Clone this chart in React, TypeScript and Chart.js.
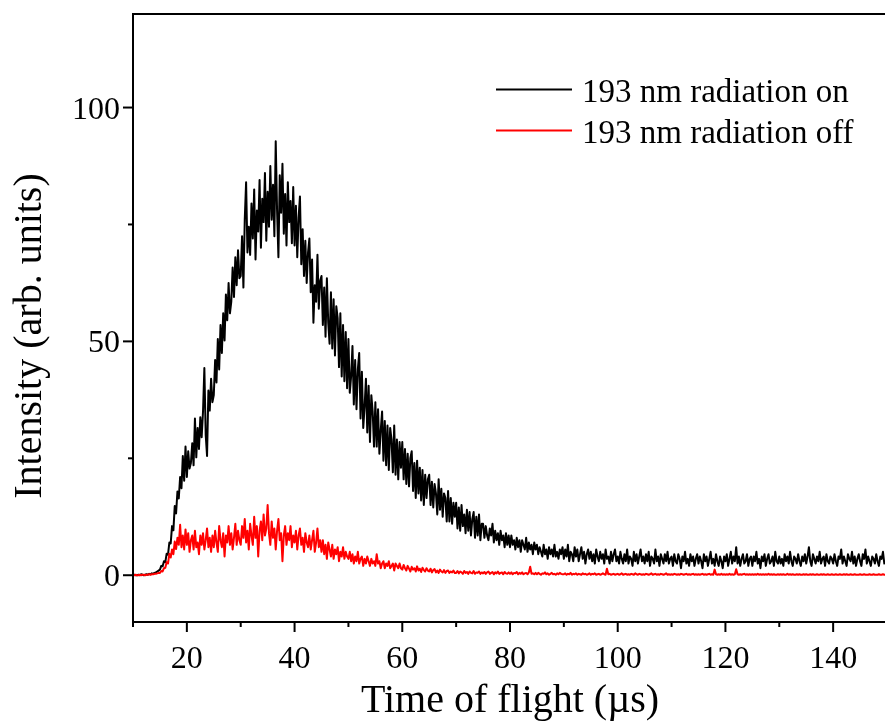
import React, { useEffect, useRef } from "react";
import { Chart, registerables } from "chart.js";

Chart.register(...registerables);

// Sampling of the time axis (µs)
const T_START = 10;
const T_STEP = 0.25;

// "193 nm radiation on" intensity, one value per 0.25 µs from 10 to 150 µs (20 values per row = 5 µs)
const onValues = [
  0, 0.1, 0, 0, 0.1, 0, 0.2, 0.1, 0, 0.1, 0.2, 0.1, 0.3, 0.2, 0.4, 0.3, 0.5, 0.6, 0.8, 1.0,
  1.2, 2.0, 1.9, 3.0, 2.8, 4.6, 4.4, 7.0, 6.8, 10.5, 9.6, 14.8, 13.2, 17.9, 16.4, 21.0, 18.6, 25.5, 20.2, 27.5,
  21.0, 26.5, 22.8, 24.0, 28.2, 23.5, 33.5, 25.2, 31.5, 27.0, 33.8, 29.5, 35.0, 44.3, 30.0, 25.5, 39.5, 35.2, 42.0, 37.0,
  38.5, 46.0, 41.2, 50.5, 44.0, 53.5, 47.5, 56.0, 50.2, 60.0, 54.5, 62.5, 56.0, 58.5, 65.8, 59.5, 68.0, 62.0, 69.5, 63.5,
  64.0, 72.5, 61.5, 76.0, 84.0, 69.0, 74.5, 68.5, 79.5, 72.0, 82.5, 67.5, 78.0, 73.5, 84.5, 70.0, 80.5, 75.5, 86.0, 71.5,
  82.0, 74.5, 87.5, 76.0, 83.5, 72.5, 92.8, 78.0, 68.0, 85.5, 77.5, 88.0, 73.0, 81.5, 70.5, 84.0, 75.5, 80.0, 71.0, 83.0,
  70.5, 79.0, 68.0, 76.5, 81.0, 66.5, 74.0, 64.0, 71.5, 62.5, 69.0, 72.0, 60.5, 67.5, 54.0, 62.0, 58.5, 68.5, 57.0, 63.0,
  64.0, 53.5, 61.5, 51.0, 63.5, 54.0, 49.5, 60.5, 48.5, 59.0, 47.0, 57.5, 55.0, 44.5, 56.0, 42.5, 53.5, 41.5, 52.0, 40.0,
  50.5, 39.0, 42.5, 49.0, 36.5, 46.0, 35.5, 44.0, 47.5, 33.5, 43.5, 31.5, 36.0, 42.0, 30.5, 40.5, 28.5, 38.5, 35.0, 27.5,
  37.0, 27.5, 35.5, 26.0, 31.0, 35.0, 24.5, 33.0, 23.5, 32.0, 22.5, 31.5, 29.0, 22.0, 32.0, 21.5, 29.0, 20.5, 28.5, 23.0,
  28.5, 20.5, 27.0, 19.5, 26.0, 19.0, 25.0, 26.5, 18.0, 24.0, 16.5, 24.5, 17.5, 23.0, 16.0, 22.5, 15.0, 21.5, 16.5, 20.5,
  21.5, 15.0, 20.0, 14.5, 19.5, 17.5, 13.0, 20.5, 14.0, 18.5, 12.5, 17.5, 16.5, 11.5, 18.0, 11.5, 16.5, 11.0, 15.5, 12.5,
  15.5, 10.0, 14.5, 9.5, 15.0, 10.5, 13.0, 9.0, 14.0, 9.5, 13.5, 8.5, 12.0, 13.5, 8.0, 12.5, 8.5, 13.0, 7.5, 11.0,
  11.0, 8.0, 10.5, 8.5, 7.5, 10.0, 8.5, 11.0, 7.0, 9.5, 7.5, 9.0, 6.5, 9.5, 7.5, 8.5, 6.0, 9.0, 6.5, 8.5,
  6.0, 8.5, 6.5, 7.5, 5.5, 8.0, 6.0, 7.5, 5.0, 7.5, 6.5, 5.5, 8.0, 5.0, 7.0, 5.5, 6.5, 4.5, 7.0, 5.5,
  6.5, 4.5, 6.0, 5.0, 4.0, 6.5, 4.5, 5.5, 3.5, 6.0, 4.5, 5.5, 4.0, 6.5, 4.0, 5.0, 3.5, 5.5, 4.5, 6.0,
  3.5, 5.5, 4.0, 6.5, 3.0, 5.0, 4.5, 3.0, 6.0, 4.0, 5.5, 3.0, 4.5, 6.0, 3.5, 5.0, 2.5, 4.5, 5.5, 3.5,
  5.0, 3.0, 4.5, 2.5, 5.5, 4.0, 3.0, 5.0, 3.5, 4.5, 2.5, 5.5, 3.5, 4.0, 2.5, 5.0, 3.0, 4.5, 5.5, 3.0,
  4.0, 2.5, 5.0, 3.5, 2.5, 4.5, 3.0, 5.5, 2.5, 4.0, 3.5, 2.0, 5.0, 3.0, 4.5, 2.5, 4.0, 5.5, 3.0, 4.0,
  2.5, 4.5, 3.0, 5.0, 2.0, 4.0, 3.5, 2.5, 5.5, 3.0, 4.0, 2.0, 4.5, 3.5, 2.5, 4.5, 3.0, 5.0, 2.5, 3.5,
  4.0, 2.0, 4.5, 3.0, 2.5, 4.5, 3.5, 1.5, 4.0, 3.0, 5.0, 2.5, 3.5, 2.0, 4.5, 3.0, 4.0, 2.0, 3.5, 4.5,
  2.5, 4.0, 3.0, 1.5, 4.5, 3.0, 4.0, 2.0, 3.5, 5.0, 2.5, 3.5, 2.0, 4.5, 3.0, 2.0, 4.0, 3.0, 1.5, 4.0,
  3.0, 4.5, 2.0, 3.5, 5.0, 2.5, 4.0, 3.0, 6.0, 2.5, 4.0, 2.0, 3.5, 4.5, 2.5, 3.0, 4.5, 2.0, 3.5, 4.0,
  2.0, 4.0, 3.0, 5.0, 2.5, 3.5, 1.5, 4.0, 3.0, 4.5, 2.0, 3.5, 4.5, 2.5, 3.0, 4.0, 2.0, 5.0, 3.0, 2.5,
  4.0, 2.5, 3.5, 2.0, 4.5, 3.0, 4.0, 2.5, 5.0, 3.0, 2.0, 4.0, 3.5, 2.5, 4.5, 3.0, 2.0, 4.0, 3.0, 4.5,
  2.5, 4.0, 6.0, 3.0, 2.0, 4.5, 3.5, 2.5, 4.0, 3.0, 5.0, 2.5, 3.5, 4.0, 2.0, 4.5, 3.0, 2.5, 4.0, 3.5,
  2.5, 4.5, 3.0, 2.0, 4.0, 3.5, 5.5, 2.5, 4.0, 3.0, 2.0, 4.5, 3.5, 3.0, 5.0, 2.5, 4.0, 2.0, 3.5, 4.5,
  3.0, 2.0, 4.5, 3.5, 5.5, 2.5, 4.0, 3.0, 2.0, 4.0, 3.5, 2.5, 4.5, 3.0, 2.0, 4.0, 3.5, 5.0, 2.5, 3.0,
  3.5,
];

// "193 nm radiation off" intensity, same sampling
const offValues = [
  0, 0, 0.1, 0, 0, 0.1, 0, 0.1, 0.1, 0, 0.1, 0.1, 0.2, 0.1, 0.2, 0.2, 0.3, 0.3, 0.4, 0.5,
  0.5, 0.9, 0.8, 1.5, 1.6, 2.8, 2.5, 4.6, 3.8, 5.5, 4.5, 7.2, 5.6, 8.0, 6.5, 10.8, 6.0, 8.5, 5.5, 9.8,
  6.5, 9.0, 5.0, 7.5, 8.5, 5.5, 9.5, 6.0, 7.0, 4.5, 8.5, 6.5, 9.0, 5.5, 7.5, 10.0, 6.0, 8.0, 5.0, 8.5,
  6.0, 9.5, 7.0, 5.0, 10.5, 7.5, 6.0, 9.0, 4.0, 8.5, 7.0, 10.5, 6.5, 9.0, 5.5, 8.0, 11.0, 6.5, 9.5, 7.5,
  6.5, 10.5, 8.0, 12.0, 7.0, 9.5, 5.5, 11.0, 8.5, 6.5, 12.5, 8.0, 10.5, 4.0, 9.5, 11.5, 7.5, 13.0, 8.5, 10.0,
  15.0, 9.0, 6.5, 11.5, 8.0, 10.0, 5.5, 9.5, 12.0, 7.5, 9.0, 3.0, 8.5, 10.5, 6.5, 9.0, 7.5, 10.5, 6.0, 8.5,
  7.0, 9.5, 5.5, 8.5, 10.0, 6.5, 8.0, 5.0, 9.0, 7.0, 6.0, 8.5, 5.5, 7.5, 9.5, 5.0, 7.0, 10.0, 6.0, 7.5,
  5.0, 7.5, 4.5, 6.5, 3.5, 7.0, 5.5, 4.0, 6.5, 3.5, 5.5, 4.5, 6.0, 3.0, 5.0, 4.0, 6.0, 3.5, 5.0, 4.0,
  3.5, 5.0, 3.0, 4.5, 2.5, 4.0, 3.0, 5.0, 2.5, 3.5, 4.0, 2.0, 3.5, 2.5, 4.0, 3.0, 2.0, 3.5, 2.5, 3.0,
  2.0, 4.5, 2.5, 3.0, 1.5, 2.5, 3.0, 1.5, 2.5, 2.0, 3.0, 1.5, 2.0, 2.5, 1.0, 2.5, 2.0, 1.5, 2.5, 1.5,
  1.2, 2.2, 1.5, 1.0, 2.0, 1.4, 0.8, 1.8, 1.2, 1.5, 0.8, 1.9, 1.0, 1.4, 0.7, 1.6, 1.1, 0.8, 1.5, 1.0,
  0.8, 1.4, 0.6, 1.1, 1.3, 0.6, 1.0, 0.5, 1.2, 0.8, 0.6, 1.1, 0.5, 0.9, 1.0, 0.5, 0.8, 0.6, 1.0, 0.5,
  0.5, 0.9, 0.4, 0.8, 0.6, 0.3, 0.9, 0.5, 0.7, 0.3, 0.8, 0.5, 0.4, 0.9, 0.3, 0.6, 0.5, 0.8, 0.3, 0.6,
  0.4, 0.7, 0.3, 0.6, 0.8, 0.3, 0.5, 0.7, 0.2, 0.6, 0.4, 0.8, 0.3, 0.5, 0.6, 0.2, 0.7, 0.4, 0.3, 0.6,
  0.3, 0.6, 0.2, 0.5, 0.4, 0.7, 0.2, 0.5, 0.3, 0.6, 0.2, 0.4, 0.5, 0.2, 0.6, 1.8, 0.3, 0.4, 0.2, 0.5,
  0.2, 0.5, 0.3, 0.1, 0.4, 0.3, 0.6, 0.2, 0.4, 0.1, 0.3, 0.5, 0.2, 0.3, 0.1, 0.4, 0.2, 0.5, 0.3, 0.2,
  0.2, 0.4, 0.1, 0.3, 0.2, 0.5, 0.1, 0.3, 0.2, 0.4, 0.1, 0.3, 0.2, 0.1, 0.4, 0.2, 0.3, 0.1, 0.2, 0.4,
  0.1, 0.3, 0.2, 0.4, 0.1, 0.2, 0.3, 0.1, 0.2, 0.4, 0.2, 0.1, 1.4, 0.2, 0.3, 0.1, 0.2, 0.3, 0.1, 0.2,
  0.3, 0.1, 0.2, 0.4, 0.1, 0.2, 0.3, 0.1, 0.2, 0.1, 0.3, 0.2, 0.1, 0.4, 0.2, 0.1, 0.3, 0.2, 0.1, 0.2,
  0.1, 0.3, 0.2, 0.1, 0.2, 0.4, 0.1, 0.2, 0.3, 0.1, 0.2, 0.1, 0.3, 0.2, 0.1, 0.2, 0.4, 0.1, 0.2, 0.1,
  0.2, 0.1, 0.3, 0.2, 0.1, 0.2, 0.1, 0.3, 0.2, 0.1, 0.2, 0.3, 0.1, 0.2, 0.1, 0.2, 0.3, 0.1, 0.2, 0.1,
  0.2, 0.1, 0.2, 0.3, 0.1, 0.2, 0.1, 0.2, 0.3, 0.1, 0.2, 0.1, 1.2, 0.2, 0.1, 0.2, 0.1, 0.3, 0.1, 0.2,
  0.1, 0.2, 0.1, 0.3, 0.1, 0.2, 0.1, 0.2, 1.3, 0.2, 0.1, 0.2, 0.1, 0.2, 0.3, 0.1, 0.2, 0.1, 0.2, 0.1,
  0.2, 0.1, 0.2, 0.1, 0.3, 0.1, 0.2, 0.1, 0.2, 0.1, 0.2, 0.1, 0.3, 0.1, 0.2, 0.1, 0.2, 0.1, 0.1, 0.2,
  0.1, 0.2, 0.1, 0.2, 0.1, 0.1, 0.3, 0.1, 0.2, 0.1, 0.2, 0.1, 0.1, 0.2, 0.1, 0.2, 0.1, 0.1, 0.2, 0.1,
  0.2, 0.1, 0.1, 0.2, 0.1, 0.2, 0.1, 0.1, 0.2, 0.1, 0.1, 0.2, 0.1, 0.2, 0.1, 0.1, 0.2, 0.1, 0.1, 0.2,
  0.1, 0.1, 0.2, 0.1, 0.1, 0.2, 0.1, 0.1, 0.2, 0.1, 0.2, 0.1, 0.1, 0.2, 0.1, 0.1, 0.2, 0.1, 0.1, 0.1,
  0.2, 0.1, 0.1, 0.2, 0.1, 0.1, 0.1, 0.2, 0.1, 0.1, 0.2, 0.1, 0.1, 0.1, 0.2, 0.1, 0.1, 0.2, 0.1, 0.1,
  0.1,
];

const seriesLabels = ["193 nm radiation on", "193 nm radiation off"];
const seriesColors = ["#000000", "#ff0000"];

const xMajorTicks = [20, 40, 60, 80, 100, 120, 140];
const xMinorTicks = [10, 30, 50, 70, 90, 110, 130, 150];
const yMajorTicks = [0, 50, 100];
const yMinorTicks = [25, 75];
const xTitle = "Time of flight (µs)";
const yTitle = "Intensity (arb. units)";

const FONT = '"Liberation Serif", "Times New Roman", serif';

const framePlugin = {
  id: "originFrame",
  afterDraw(chart: any) {
    const ctx = chart.ctx as CanvasRenderingContext2D;
    const { left, right, top, bottom } = chart.chartArea;
    const xs = chart.scales.x;
    const ys = chart.scales.y;
    ctx.save();
    ctx.strokeStyle = "#000";
    ctx.fillStyle = "#000";
    ctx.lineWidth = 2;
    ctx.lineCap = "butt";
    ctx.strokeRect(left, top, right - left, bottom - top);

    const tickX = (v: number, len: number) => {
      const px = xs.getPixelForValue(v);
      ctx.beginPath();
      ctx.moveTo(px, bottom);
      ctx.lineTo(px, bottom + len);
      ctx.stroke();
    };
    xMajorTicks.forEach((v) => tickX(v, 10));
    xMinorTicks.forEach((v) => tickX(v, 5));
    const tickY = (v: number, len: number) => {
      const py = ys.getPixelForValue(v);
      ctx.beginPath();
      ctx.moveTo(left, py);
      ctx.lineTo(left - len, py);
      ctx.stroke();
    };
    yMajorTicks.forEach((v) => tickY(v, 10));
    yMinorTicks.forEach((v) => tickY(v, 5));

    ctx.font = `32px ${FONT}`;
    ctx.textBaseline = "alphabetic";
    ctx.textAlign = "center";
    xMajorTicks.forEach((v) => {
      ctx.fillText(String(v), xs.getPixelForValue(v), 668);
    });
    ctx.textAlign = "right";
    yMajorTicks.forEach((v) => {
      ctx.fillText(String(v), left - 13, ys.getPixelForValue(v) + 11);
    });

    ctx.font = `40px ${FONT}`;
    ctx.textAlign = "center";
    ctx.fillText(xTitle, (left + right) / 2, 712);
    ctx.save();
    ctx.translate(41, (top + bottom) / 2 + 18);
    ctx.rotate(-Math.PI / 2);
    ctx.fillText(yTitle, 0, 0);
    ctx.restore();

    ctx.font = `33px ${FONT}`;
    ctx.textAlign = "left";
    const rows = [
      { lineY: 89.5, textY: 101.5 },
      { lineY: 130.5, textY: 142.5 },
    ];
    seriesLabels.forEach((label, i) => {
      ctx.strokeStyle = seriesColors[i];
      ctx.beginPath();
      ctx.moveTo(496, rows[i].lineY);
      ctx.lineTo(572, rows[i].lineY);
      ctx.stroke();
      ctx.fillStyle = "#000";
      ctx.fillText(label, 582, rows[i].textY);
    });
    ctx.restore();
  },
};

export default function App() {
  const canvasRef = useRef<HTMLCanvasElement | null>(null);

  useEffect(() => {
    const canvas = canvasRef.current;
    if (!canvas) return;
    const times = onValues.map((_, i) => T_START + i * T_STEP);
    const chart = new Chart(canvas, {
      type: "line",
      data: {
        datasets: [
          {
            label: seriesLabels[0],
            data: onValues.map((y, i) => ({ x: times[i], y })),
            borderColor: seriesColors[0],
            borderWidth: 2,
            pointRadius: 0,
            tension: 0,
            borderJoinStyle: "round",
            order: 1,
          },
          {
            label: seriesLabels[1],
            data: offValues.map((y, i) => ({ x: times[i], y })),
            borderColor: seriesColors[1],
            borderWidth: 2,
            pointRadius: 0,
            tension: 0,
            borderJoinStyle: "round",
            order: 0,
          },
        ],
      },
      options: {
        responsive: false,
        animation: false,
        layout: { padding: { left: 0, right: 3, top: 14, bottom: 0 } },
        plugins: { legend: { display: false }, tooltip: { enabled: false } },
        scales: {
          x: {
            type: "linear",
            min: 10,
            max: 150,
            grid: { display: false },
            border: { display: false },
            ticks: { display: false },
            afterFit: (s: any) => {
              s.height = 104;
            },
          },
          y: {
            type: "linear",
            min: -10,
            max: 120,
            grid: { display: false },
            border: { display: false },
            ticks: { display: false },
            afterFit: (s: any) => {
              s.width = 133;
            },
          },
        },
      },
      plugins: [framePlugin],
    });
    return () => chart.destroy();
  }, []);

  return (
    <div style={{ position: "fixed", left: 0, top: 0, width: 890, height: 726, background: "#fff" }}>
      <canvas ref={canvasRef} width={890} height={726} style={{ width: 890, height: 726, display: "block" }} />
    </div>
  );
}
